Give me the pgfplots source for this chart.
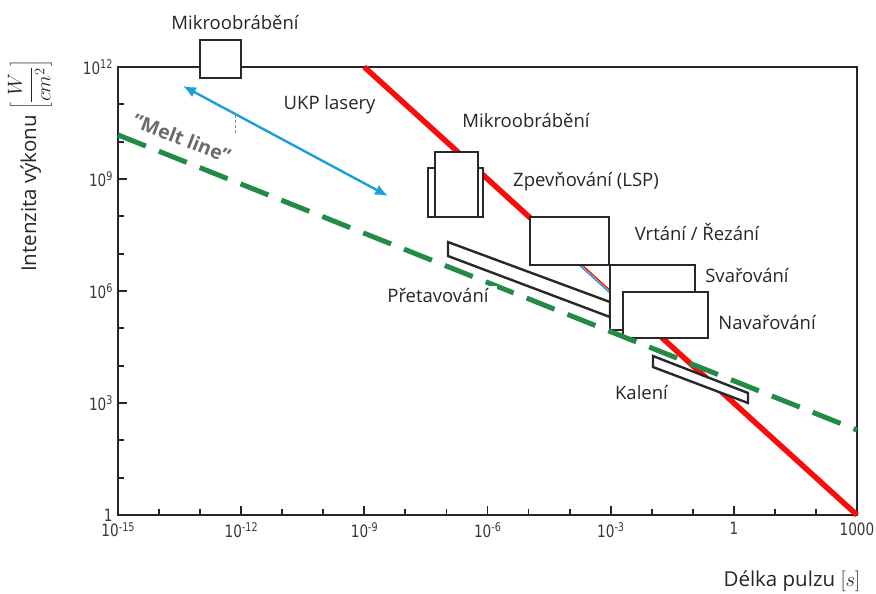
\documentclass[border=0pt]{standalone}
\usepackage{fontspec}
\setmainfont{Open Sans}
\newfontfamily\tickfont[FakeStretch=0.8]{DejaVu Sans}
\usepackage{pgfplots}
\pgfplotsset{compat=1.18}
\usetikzlibrary{arrows.meta}

\definecolor{laserred}{RGB}{250,12,12}
\definecolor{meltgreen}{RGB}{34,139,72}
\definecolor{ukpblue}{RGB}{28,158,214}
\definecolor{boxgray}{RGB}{40,40,40}

\tikzset{
  procbox/.style={draw=boxgray, line width=2.4pt, fill=white, line join=miter},
  lbl/.style={font=\fontsize{18.5}{20}\selectfont, text=black!85, inner sep=2pt},
}
\newcommand{\dec}[1]{10\raisebox{0.6ex}{\fontsize{12}{13}\selectfont#1}}

\begin{document}
\begin{tikzpicture}
\path[use as bounding box] (0,0) rectangle (876pt,594pt);
\begin{axis}[
  at={(118pt,79pt)}, anchor=south west,
  scale only axis, width=739pt, height=448pt,
  xmode=log, ymode=log,
  xmin=1e-15, xmax=1e3, ymin=1, ymax=1e12,
  clip=false,
  axis line style={line width=2.2pt, black!85},
  xtick={1e-15,1e-12,1e-9,1e-6,1e-3,1,1e3},
  xticklabels={\dec{-15},\dec{-12},\dec{-9},\dec{-6},\dec{-3},1,1000},
  minor xtick={1e-14,1e-13,1e-11,1e-10,1e-8,1e-7,1e-5,1e-4,1e-2,1e-1,1e1,1e2},
  ytick={1,1e3,1e6,1e9,1e12},
  yticklabels={1,\dec{3},\dec{6},\dec{9},\dec{12}},
  minor ytick={1e1,1e2,1e4,1e5,1e7,1e8,1e10,1e11},
  tick align=inside, xtick pos=left, ytick pos=left,
  major tick length=9pt, minor tick length=6pt,
  every tick/.style={black!85, line width=1.8pt},
  ticklabel style={font=\tickfont\fontsize{17}{19}\selectfont, text=black!78},
  xticklabel style={yshift=-4pt},
  yticklabel style={xshift=-2pt},
]

% laser ablation threshold, I = 10^3 / t
\addplot[laserred, line width=5.5pt, line cap=butt] coordinates {(1e-9,1e12) (1e-4,1e7)};
\addplot[laserred, line width=1.4pt] coordinates {(1e-4,1e7) (1.12e-3,8.9e5)};
\addplot[ukpblue, line width=1.4pt] coordinates {(1e-4,8.5e6) (1.12e-3,7.6e5)};
\addplot[laserred, line width=5.5pt, line cap=butt] coordinates {(1.26e-3,7.9e5) (1e3,1)};

% process windows
\addplot[procbox] coordinates {(1e-13,5.1e11) (1e-13,5.2e12) (1e-12,5.2e12) (1e-12,5.1e11)} --cycle;
\addplot[procbox] coordinates {(3.55e-8,9.55e7) (3.55e-8,1.97e9) (7.76e-7,1.97e9) (7.76e-7,9.55e7)} --cycle;
\addplot[procbox] coordinates {(5.25e-8,9.55e7) (5.25e-8,5.25e9) (5.89e-7,5.25e9) (5.89e-7,9.55e7)} --cycle;
\addplot[procbox] coordinates {(1.08e-5,5.01e6) (1.08e-5,9.55e7) (9.12e-4,9.55e7) (9.12e-4,5.01e6)} --cycle;
\addplot[procbox] coordinates {(1.09e-7,2.05e7) (1.09e-7,8.65e6) (9.62e-4,2.01e5) (9.62e-4,5.07e5)} --cycle;
\addplot[procbox] coordinates {(9.55e-4,9.02e4) (9.55e-4,5.01e6) (0.112,5.01e6) (0.112,9.02e4)} --cycle;
\addplot[procbox] coordinates {(2.0e-3,5.50e4) (2.0e-3,9.40e5) (0.234,9.40e5) (0.234,5.50e4)} --cycle;
\addplot[procbox] coordinates {(1.074e-2,1.816e4) (1.074e-2,9.20e3) (2.213,1.0e3) (2.213,1.854e3)} --cycle;

% melt line
\addplot[meltgreen, line width=5pt, dash pattern=on 30pt off 14pt] coordinates {(1e-15,1.514e10) (1e3,189.2)};

% ultrashort pulse range
\addplot[ukpblue, line width=2.4pt, {Latex[length=13pt,width=11pt]}-{Latex[length=13pt,width=11pt]}] coordinates {(3.83e-14,3.10e11) (3.77e-9,3.50e8)};
\addplot[black!45, line width=1pt, dash pattern=on 3pt off 2pt] coordinates {(7.48e-13,5.2e10) (7.48e-13,1.6e10)};

% labels
\node[lbl] at (axis cs:7.08e-13,1.51e13) {Mikroobrábění};
\node[lbl] at (axis cs:1.43e-10,9.59e10) {UKP lasery};
\node[lbl] at (axis cs:8.67e-6,3.80e10) {Mikroobrábění};
\node[lbl] at (axis cs:2.51e-4,8.30e8) {Zpevňování (LSP)};
\node[lbl] at (axis cs:0.1268,3.80e7) {Vrtání / Řezání};
\node[lbl] at (axis cs:2.09,2.68e6) {Svařování};
\node[lbl] at (axis cs:6.43,1.39e5) {Navařování};
\node[lbl, fill=white, inner xsep=8pt] at (axis cs:6.22e-8,7.80e5) {Přetavování};
\node[lbl, fill=white, inner xsep=6pt] at (axis cs:5.64e-3,1.97e3) {Kalení};
\node[font=\fontsize{19.5}{21}\selectfont\bfseries, text=black!58, rotate=-21] at (axis cs:3.62e-14,1.25e10) {"Melt line"};

\node[font=\fontsize{20.5}{22}\selectfont, text=black!85, rotate=90] at (axis cs:7.19e-18,2.23e9) {Intenzita výkonu $\left[\displaystyle\frac{W}{cm^2}\right]$};
\node[font=\fontsize{20.5}{22}\selectfont, text=black!85] at (axis cs:26.1,0.01702) {Délka pulzu $[s]$};
\end{axis}
\end{tikzpicture}
\end{document}
